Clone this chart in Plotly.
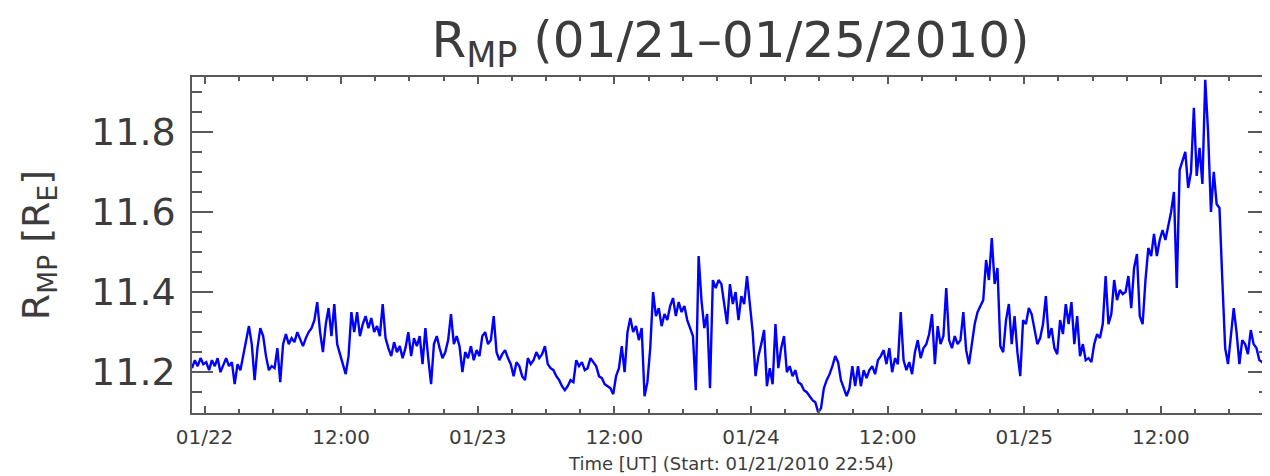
import pandas as pd
import plotly.graph_objects as go

# ---- data -------------------------------------------------------------
start_time = "2010-01-21 22:54"
sample_minutes = 15

r_mp = [
    # 01/21 22:54 ...
    11.21, 11.23, 11.215, 11.235, 11.22, 11.225, 11.205, 11.23, 11.215, 11.235,
    11.20, 11.22, 11.235, 11.215, 11.225, 11.17, 11.22, 11.205, 11.24, 11.28,
    11.315, 11.27, 11.18, 11.26, 11.31, 11.29, 11.24, 11.205, 11.215, 11.21,
    11.26, 11.175, 11.27, 11.295, 11.27, 11.285, 11.275, 11.30, 11.28, 11.265,
    11.285, 11.30, 11.31, 11.33, 11.375, 11.30, 11.25, 11.32, 11.36, 11.29,
    11.37, 11.27, 11.245, 11.22, 11.195, 11.24, 11.35, 11.30, 11.35, 11.29,
    11.32, 11.34, 11.31, 11.335, 11.30, 11.315, 11.29, 11.37, 11.285, 11.26,
    11.24, 11.275, 11.25, 11.265, 11.235, 11.26, 11.30,
    # 01/22 18:09 ...
    11.24, 11.285, 11.265, 11.29, 11.22, 11.31, 11.235, 11.17, 11.27, 11.29,
    11.26, 11.235, 11.25, 11.28, 11.345, 11.27, 11.29, 11.265, 11.20, 11.25,
    11.235, 11.265, 11.23, 11.255, 11.24, 11.29, 11.30, 11.27, 11.28, 11.34,
    11.25, 11.23, 11.245, 11.255, 11.235, 11.22, 11.19, 11.225, 11.215, 11.19,
    11.18, 11.235, 11.22, 11.23, 11.25, 11.235, 11.245, 11.265, 11.22, 11.21,
    11.205, 11.19, 11.18, 11.165, 11.155, 11.165, 11.18, 11.175, 11.23, 11.215,
    11.225, 11.205, 11.21, 11.235, 11.225, 11.215, 11.19, 11.185, 11.17, 11.165,
    11.16, 11.145, 11.19,
    # 01/23 12:24 ...
    11.21, 11.265, 11.20, 11.30, 11.335, 11.30, 11.315, 11.28, 11.31, 11.14,
    11.175, 11.26, 11.40, 11.34, 11.36, 11.315, 11.345, 11.33, 11.365, 11.385,
    11.34, 11.375, 11.35, 11.365, 11.33, 11.31, 11.29, 11.155, 11.49, 11.38,
    11.31, 11.345, 11.16, 11.43, 11.41, 11.43, 11.42, 11.37, 11.32, 11.42,
    11.37, 11.40, 11.33, 11.39, 11.37, 11.44, 11.36, 11.30, 11.19, 11.24,
    11.27, 11.305, 11.165, 11.21, 11.17, 11.32, 11.21, 11.26, 11.29, 11.20,
    11.215, 11.19, 11.205, 11.175, 11.17, 11.155, 11.15, 11.14, 11.13, 11.125,
    11.10, 11.11, 11.16, 11.18, 11.195,
    # 01/24 07:09 ...
    11.215, 11.24, 11.225, 11.18, 11.16, 11.14, 11.16, 11.215, 11.165, 11.215,
    11.165, 11.205, 11.185, 11.205, 11.215, 11.195, 11.23, 11.24, 11.255, 11.22,
    11.26, 11.20, 11.235, 11.22, 11.35, 11.23, 11.205, 11.225, 11.195, 11.25,
    11.28, 11.235, 11.26, 11.27, 11.295, 11.345, 11.22, 11.315, 11.27, 11.29,
    11.41, 11.28, 11.26, 11.29, 11.27, 11.28, 11.35, 11.255, 11.22, 11.27,
    11.32, 11.35, 11.365, 11.38, 11.48, 11.43, 11.535, 11.42, 11.46, 11.265,
    11.25, 11.33, 11.37, 11.27, 11.34, 11.25, 11.19, 11.33, 11.32, 11.36,
    11.345, 11.31, 11.27, 11.285,
    # 01/25 01:39 ...
    11.32, 11.39, 11.285, 11.31, 11.26, 11.245, 11.33, 11.295, 11.37, 11.32,
    11.375, 11.27, 11.34, 11.24, 11.27, 11.23, 11.235, 11.225, 11.27, 11.295,
    11.285, 11.32, 11.44, 11.32, 11.345, 11.43, 11.38, 11.405, 11.395, 11.40,
    11.44, 11.36, 11.46, 11.495, 11.34, 11.32, 11.43, 11.51, 11.49, 11.545,
    11.49, 11.53, 11.555, 11.53, 11.565, 11.60, 11.65, 11.41, 11.705, 11.73,
    11.75, 11.66, 11.70, 11.86, 11.69, 11.76, 11.67, 11.93, 11.80, 11.60,
    11.70, 11.62, 11.61, 11.43, 11.26, 11.22, 11.30, 11.36, 11.30, 11.22,
    11.28, 11.27, 11.245, 11.305, 11.27, 11.26, 11.23, 11.225, 11.215, 11.235,
]

x_tick_times = ["2010-01-22 00:00", "2010-01-22 12:00", "2010-01-23 00:00",
                "2010-01-23 12:00", "2010-01-24 00:00", "2010-01-24 12:00",
                "2010-01-25 00:00", "2010-01-25 12:00"]
x_tick_labels = ["01/22", "12:00", "01/23", "12:00", "01/24", "12:00", "01/25", "12:00"]
y_tick_vals = [11.2, 11.4, 11.6, 11.8]
y_tick_labels = ["11.2", "11.4", "11.6", "11.8"]
x_range = ["2010-01-21 22:54", "2010-01-25 21:30"]
y_range = [11.098, 11.937]

title_text = "R<sub>MP</sub> (01/21\u201301/25/2010)"
x_title = "Time [UT] (Start: 01/21/2010 22:54)"
y_title = "R<sub>MP</sub> [R<sub>E</sub>]"

# ---- figure -----------------------------------------------------------
times = pd.date_range(start_time, periods=len(r_mp), freq=f"{sample_minutes}min")

FONT = "DejaVu Sans"
TXT = "#3c3c3c"
AX = "#5a5a5a"

# the page body adds an 8 px offset; margins are set so the plot box lands where the reference has it
W, H = 1262, 468
M_L, M_R, M_T, M_B = 184, 1, 69, 63
plot_h = H - M_T - M_B

fig = go.Figure(
    go.Scatter(x=times, y=r_mp, mode="lines",
               line=dict(color="#0000ff", width=2.4), hoverinfo="skip")
)

fig.update_layout(
    width=W, height=H, autosize=False,
    margin=dict(l=M_L, r=M_R, t=M_T, b=M_B, autoexpand=False),
    paper_bgcolor="white", plot_bgcolor="white",
    showlegend=False,
    font=dict(family=FONT, color=TXT),
    title=dict(text=title_text, font=dict(family=FONT, size=50, color=TXT),
               x=0.5, xref="paper", xanchor="center",
               y=1 - 31 / H, yref="container", yanchor="middle",
               automargin=False),
    annotations=[
        dict(text=x_title, xref="paper", yref="paper", x=0.5, y=-50 / plot_h,
             xanchor="center", yanchor="middle", showarrow=False,
             font=dict(family=FONT, size=18, color=TXT)),
    ],
)

fig.update_xaxes(
    range=x_range, tickmode="array", tickvals=x_tick_times, ticktext=x_tick_labels,
    ticks="inside", ticklen=7, tickwidth=1.5, tickcolor=AX,
    showline=True, linecolor=AX, linewidth=1.5, mirror="ticks",
    showgrid=False, zeroline=False, automargin=False,
    tickfont=dict(family=FONT, size=20, color=TXT),
    ticklabelstandoff=5,
    minor=dict(tick0="2010-01-22", dtick=3 * 3600 * 1000, ticks="inside",
               ticklen=4, tickwidth=1.5, tickcolor=AX, showgrid=False),
)

fig.update_yaxes(
    range=y_range, tickmode="array", tickvals=y_tick_vals, ticktext=y_tick_labels,
    ticks="inside", ticklen=21, tickwidth=1.5, tickcolor=AX,
    showline=True, linecolor=AX, linewidth=1.5, mirror="ticks",
    showgrid=False, zeroline=False, automargin=False,
    tickfont=dict(family=FONT, size=38, color=TXT),
    ticklabelstandoff=7,
    minor=dict(tick0=11.2, dtick=0.05, ticks="inside", ticklen=10,
               tickwidth=1.5, tickcolor=AX, showgrid=False),
    title=dict(text=y_title, font=dict(family=FONT, size=38, color=TXT), standoff=30),
)

fig.write_html("out.html", config={"responsive": False})
